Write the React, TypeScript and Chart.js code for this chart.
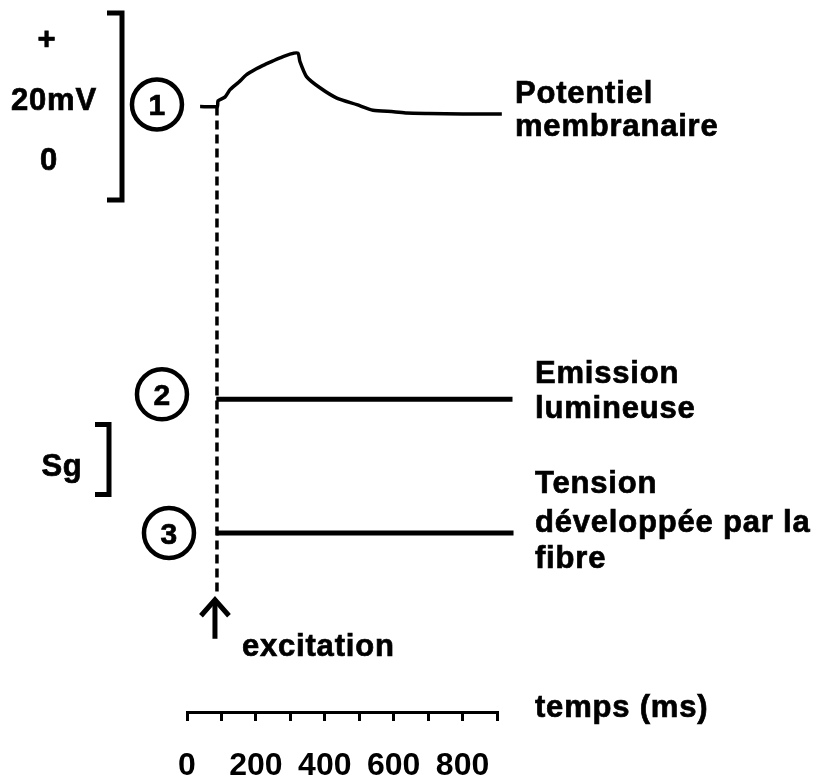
import React, { useEffect, useRef } from "react";
import { Chart, registerables } from "chart.js";

Chart.register(...registerables);

// ---- Data ----
const TIME_TICKS_MS = [0, 100, 200, 300, 400, 500, 600, 700, 800, 900];
const TIME_LABELS_MS = [0, 200, 400, 600, 800];
const EXCITATION_MS = 87;

// Trace 1: membrane potential (mV) vs time (ms)
const membraneTime = [38, 88, 90, 110, 125, 150, 173, 200, 221, 245, 270, 299, 322, 328, 347, 386, 435, 493, 540, 600, 638, 700, 800, 914];
const membraneMv = [10.0, 10.0, 10.6, 11.0, 11.8, 12.6, 13.4, 14.0, 14.4, 14.8, 15.2, 15.6, 15.7, 14.8, 13.2, 12.0, 10.9, 10.2, 9.6, 9.45, 9.3, 9.25, 9.2, 9.2];

// Trace 2: light emission (Sg units, flat)
const emissionTime = [85, 945];
const emissionSg = [1.91, 1.91];

// Trace 3: tension developed by the fibre (Sg units, flat)
const tensionTime = [85, 948];
const tensionSg = [0, 0];

// Excitation marker (dashed vertical), in mV scale
const excitationMv = [10.0, -41.9];

// Scale bars
const MV_BAR = [0, 20];
const SG_BAR = [0.55, 1.55];

const FONT = '"Liberation Sans", Arial, Helvetica, sans-serif';

const annotationPlugin = {
  id: "annotations",
  afterDraw(chart: any) {
    const ctx = chart.ctx as CanvasRenderingContext2D;
    const xs = chart.scales.x;
    const ym = chart.scales.y;
    const ys = chart.scales.yS;
    const right = xs.getPixelForValue(900);
    const exX = xs.getPixelForValue(EXCITATION_MS);
    ctx.save();
    ctx.fillStyle = "#000";
    ctx.strokeStyle = "#000";
    ctx.lineCap = "butt";
    ctx.lineJoin = "miter";
    (ctx as any).letterSpacing = "0.8px";
    ctx.font = `bold 31px ${FONT}`;
    ctx.textAlign = "left";
    ctx.textBaseline = "alphabetic";
    const text = (t: string, x: number, y: number) => {
      ctx.fillText(t, x, y);
      ctx.lineWidth = 0.7;
      ctx.strokeText(t, x, y);
    };

    // Right-side labels
    const mvBase = ym.getPixelForValue(membraneMv[membraneMv.length - 1]);
    text("Potentiel", right + 18, mvBase - 11);
    text("membranaire", right + 18, mvBase + 22);
    const eY = ys.getPixelForValue(emissionSg[0]);
    text("Emission", right + 38, eY - 16);
    text("lumineuse", right + 38, eY + 19);
    const tY = ys.getPixelForValue(tensionSg[0]);
    text("Tension", right + 38, tY - 40);
    text("développée par la", right + 38, tY - 1);
    text("fibre", right + 38, tY + 35);

    // time axis title
    text("temps (ms)", right + 38, chart.chartArea.bottom + 5);

    // excitation label + arrow
    const arrowTip = ym.getPixelForValue(excitationMv[1]) + 6;
    text("excitation", exX + 25, arrowTip + 58);
    ctx.lineWidth = 5;
    ctx.beginPath();
    ctx.moveTo(exX - 2, arrowTip + 3);
    ctx.lineTo(exX - 2, arrowTip + 41);
    ctx.stroke();
    ctx.beginPath();
    ctx.moveTo(exX - 16, arrowTip + 18);
    ctx.lineTo(exX - 2, arrowTip + 2);
    ctx.lineTo(exX + 12, arrowTip + 18);
    ctx.stroke();

    // mV scale bar
    const top = ym.getPixelForValue(MV_BAR[1]);
    const bot = ym.getPixelForValue(MV_BAR[0]);
    ctx.lineWidth = 5;
    ctx.beginPath();
    ctx.moveTo(107, top);
    ctx.lineTo(122, top);
    ctx.lineTo(122, bot);
    ctx.lineTo(107, bot);
    ctx.stroke();
    ctx.textAlign = "center";
    text("+", 47, top + 36);
    text("20mV", 54, (top + bot) / 2 + 4);
    text("0", 49, bot - 30);

    // Sg scale bar
    const sTop = ys.getPixelForValue(SG_BAR[1]);
    const sBot = ys.getPixelForValue(SG_BAR[0]);
    ctx.lineWidth = 5;
    ctx.beginPath();
    ctx.moveTo(95, sTop);
    ctx.lineTo(109, sTop);
    ctx.lineTo(109, sBot);
    ctx.lineTo(95, sBot);
    ctx.stroke();
    text("Sg", 62, (sTop + sBot) / 2 + 17);

    // circled numbers
    const circles: [string, number, number][] = [
      ["1", exX - 60, ym.getPixelForValue(membraneMv[0]) - 2],
      ["2", exX - 55, eY - 5],
      ["3", exX - 48, tY],
    ];
    (ctx as any).letterSpacing = "0px";
    ctx.font = `bold 30px ${FONT}`;
    for (const [t, cx, cy] of circles) {
      ctx.lineWidth = 4.5;
      ctx.beginPath();
      ctx.arc(cx, cy, 25, 0, Math.PI * 2);
      ctx.stroke();
      text(t, cx, cy + 11);
    }
    ctx.restore();
  },
};

export default function App() {
  const ref = useRef<HTMLCanvasElement | null>(null);
  useEffect(() => {
    if (!ref.current) return;
    const toXY = (xs: number[], ys: number[]) => xs.map((x, i) => ({ x, y: ys[i] }));
    const chart = new Chart(ref.current, {
      type: "line",
      data: {
        datasets: [
          {
            label: "Potentiel membranaire",
            data: toXY(membraneTime, membraneMv),
            yAxisID: "y",
            borderColor: "#000",
            borderWidth: 3.5,
            pointRadius: 0,
            tension: 0.2,
            clip: false as any,
          },
          {
            label: "Emission lumineuse",
            data: toXY(emissionTime, emissionSg),
            yAxisID: "yS",
            borderColor: "#000",
            borderWidth: 5,
            pointRadius: 0,
            clip: false as any,
          },
          {
            label: "Tension développée par la fibre",
            data: toXY(tensionTime, tensionSg),
            yAxisID: "yS",
            borderColor: "#000",
            borderWidth: 5,
            pointRadius: 0,
            clip: false as any,
          },
          {
            label: "excitation",
            data: toXY([EXCITATION_MS, EXCITATION_MS], excitationMv),
            yAxisID: "y",
            borderColor: "#000",
            borderWidth: 3.5,
            borderDash: [9, 5],
            pointRadius: 0,
            clip: false as any,
          },
        ],
      },
      options: {
        animation: false,
        responsive: false,
        maintainAspectRatio: false,
        layout: { padding: { left: 187, right: 321, top: 0, bottom: 0 } },
        plugins: { legend: { display: false }, tooltip: { enabled: false } },
        scales: {
          x: {
            type: "linear",
            min: 0,
            max: 900,
            afterFit(scale: any) {
              scale.height = 66;
            },
            afterBuildTicks(scale: any) {
              scale.ticks = TIME_TICKS_MS.map((v) => ({ value: v }));
            },
            border: { display: true, color: "#000", width: 3 },
            grid: {
              display: true,
              drawOnChartArea: false,
              drawTicks: true,
              tickLength: 9,
              color: "#000",
              lineWidth: 3,
            },
            ticks: {
              autoSkip: false,
              maxRotation: 0,
              minRotation: 0,
              padding: 26,
              color: "#000",
              font: { family: FONT, size: 32, weight: "bold" },
              callback: (v: any) => (TIME_LABELS_MS.includes(Number(v)) ? String(v) : ""),
            },
          },
          y: {
            type: "linear",
            display: false,
            min: -54.76,
            max: 21.39,
          },
          yS: {
            type: "linear",
            display: false,
            min: -2.557,
            max: 7.614,
          },
        },
      },
      plugins: [annotationPlugin],
    } as any);
    return () => chart.destroy();
  }, []);
  return (
    <div style={{ position: "fixed", left: 0, top: 0, width: 818, height: 778, background: "#fff" }}>
      <canvas ref={ref} width={818} height={778} style={{ display: "block", width: 818, height: 778 }} />
    </div>
  );
}
